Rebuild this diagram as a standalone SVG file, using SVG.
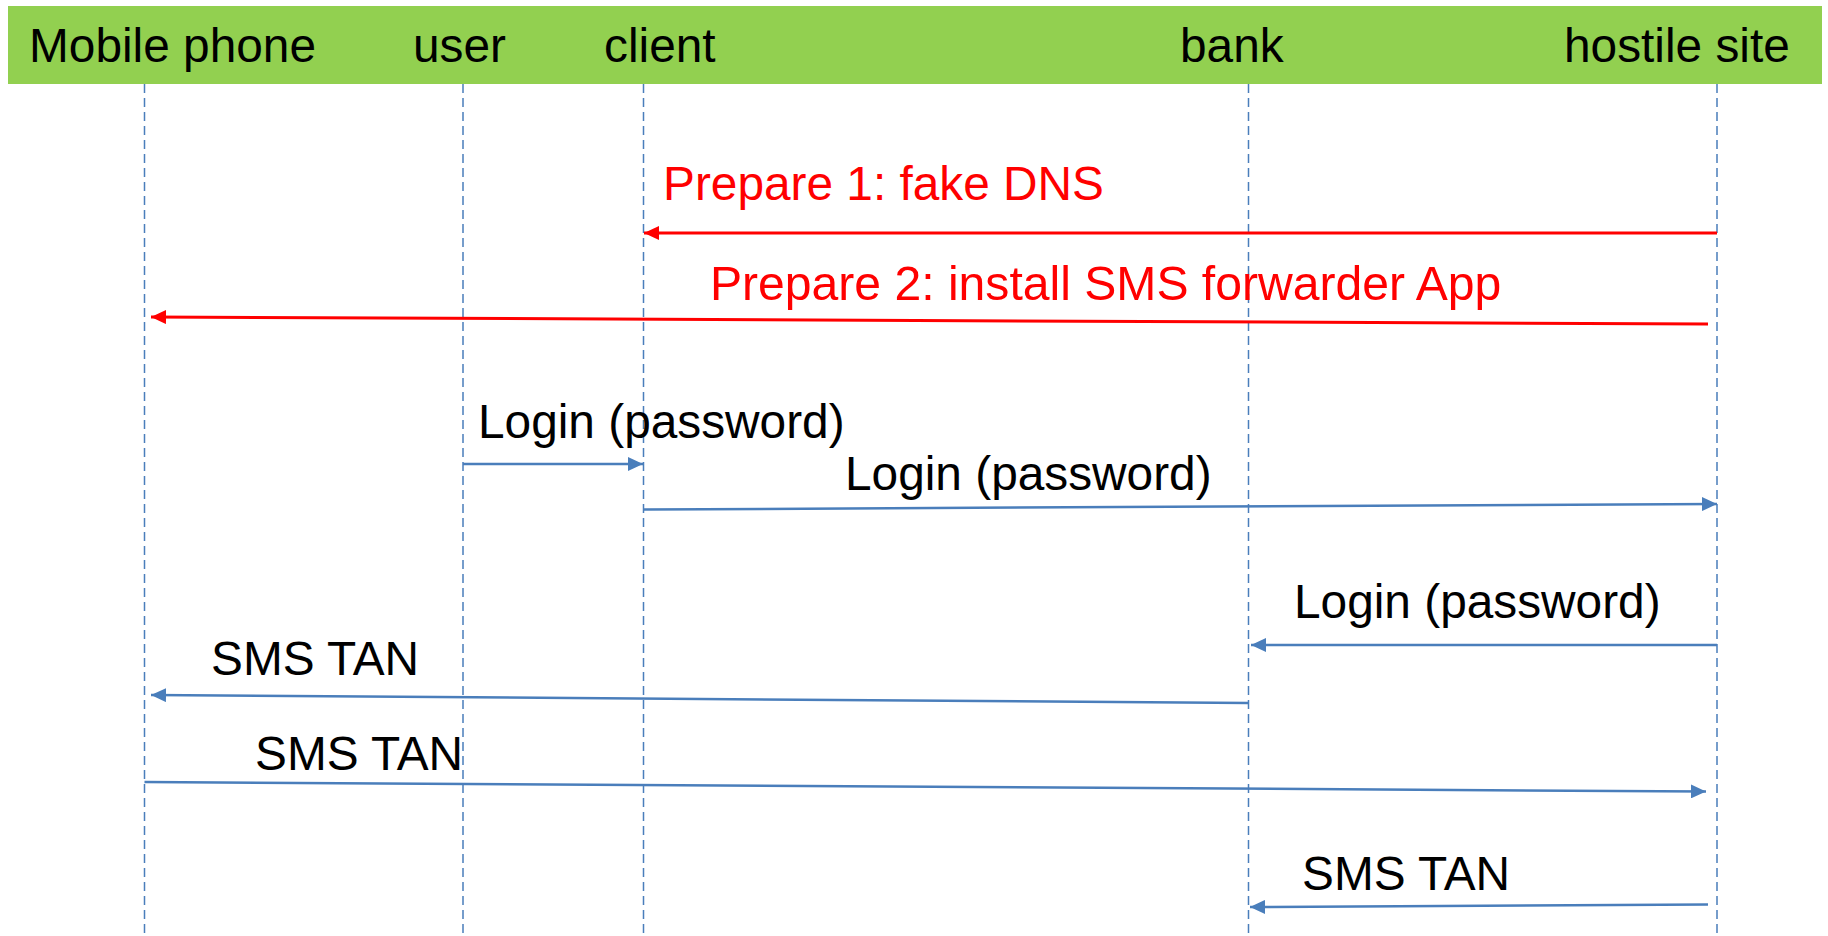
<svg xmlns="http://www.w3.org/2000/svg" width="1828" height="936" viewBox="0 0 1828 936">
<style>
text{font-family:"Liberation Sans",Arial,sans-serif;font-size:47.8px;fill:#000}
.red{fill:#ff0000}
.life{stroke:#4a7ebb;stroke-width:1.5;stroke-dasharray:9 5;fill:none}
.blue{stroke:#4a7ebb;stroke-width:2.5;fill:none;marker-end:url(#ab)}
.redl{stroke:#ff0000;stroke-width:3;fill:none;marker-end:url(#ar)}
</style>
<defs>
<marker id="ab" markerUnits="userSpaceOnUse" markerWidth="16" markerHeight="14" refX="15" refY="7" orient="auto"><path d="M0,0 L15,7 L0,14 z" fill="#4a7ebb"/></marker>
<marker id="ar" markerUnits="userSpaceOnUse" markerWidth="16" markerHeight="14" refX="15" refY="7" orient="auto"><path d="M0,0 L15,7 L0,14 z" fill="#ff0000"/></marker>
</defs>
<rect width="1828" height="936" fill="#fff"/>
<rect x="8" y="6" width="1814" height="78" fill="#92d050"/>
<g id="mobile"><text x="29" y="62">Mobile phone</text><line class="life" x1="144.5" y1="84" x2="144.5" y2="936"/></g>
<g id="user"><text x="413" y="62">user</text><line class="life" x1="463" y1="84" x2="463" y2="936"/></g>
<g id="client"><text x="604" y="62">client</text><line class="life" x1="643.5" y1="84" x2="643.5" y2="936"/></g>
<g id="bank"><text x="1180" y="62">bank</text><line class="life" x1="1248.5" y1="84" x2="1248.5" y2="936"/></g>
<g id="hostile"><text x="1564" y="62">hostile site</text><line class="life" x1="1717" y1="84" x2="1717" y2="936"/></g>
<g id="connectors">
<line class="redl" x1="1717" y1="233" x2="644" y2="233"/>
<line class="redl" x1="1708" y1="324" x2="151" y2="317"/>
<line class="blue" x1="463" y1="464" x2="643" y2="464"/>
<line class="blue" x1="644" y1="509.5" x2="1717" y2="504"/>
<line class="blue" x1="1717" y1="645" x2="1251" y2="645"/>
<line class="blue" x1="1248.5" y1="703" x2="151" y2="695"/>
<line class="blue" x1="144.5" y1="782" x2="1706" y2="791.5"/>
<line class="blue" x1="1708" y1="904.5" x2="1250" y2="907"/>
</g>
<g id="labels">
<text class="red" x="663" y="200">Prepare 1: fake DNS</text>
<text class="red" x="710" y="300" style="font-size:48.1px">Prepare 2: install SMS forwarder App</text>
<text x="478" y="438">Login (password)</text>
<text x="845" y="490">Login (password)</text>
<text x="1294" y="618">Login (password)</text>
<text x="211" y="675">SMS TAN</text>
<text x="255" y="770">SMS TAN</text>
<text x="1302" y="890">SMS TAN</text>
</g>
</svg>
